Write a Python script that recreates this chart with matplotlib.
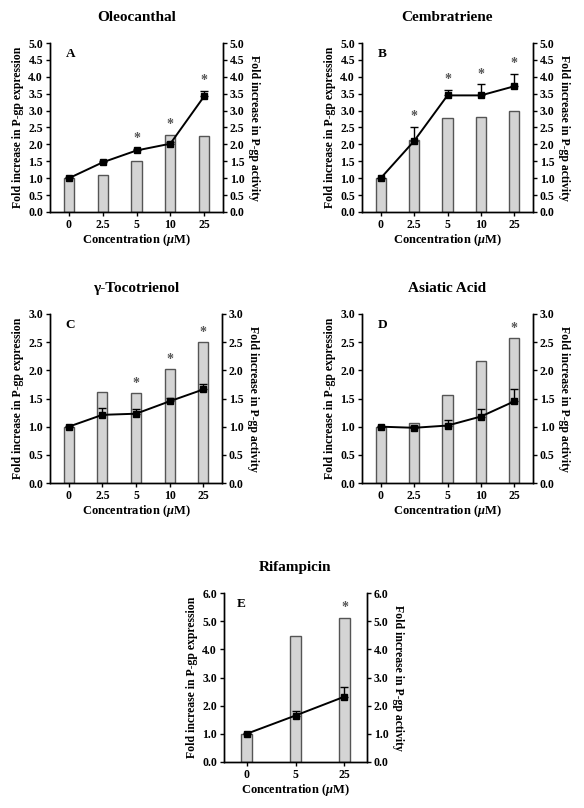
import matplotlib
matplotlib.use('Agg')
import matplotlib.pyplot as plt
import numpy as np

plt.rcParams['font.family'] = ['Liberation Serif', 'DejaVu Serif']
plt.rcParams['font.weight'] = 'bold'
plt.rcParams['axes.labelweight'] = 'bold'
plt.rcParams['axes.titleweight'] = 'bold'
plt.rcParams['mathtext.fontset'] = 'custom'
plt.rcParams['mathtext.it'] = 'Liberation Serif:bold:italic'
plt.rcParams['mathtext.rm'] = 'Liberation Serif:bold'

# 数据
conc_5 = ['0', '2.5', '5', '10', '25']
conc_3 = ['0', '5', '25']

ole_expr = [1.0, 1.10, 1.52, 2.28, 2.25]
ole_act = [1.0, 1.47, 1.82, 2.02, 3.42]
ole_err = [0.03, 0.03, 0.05, 0.05, 0.16]
ole_sig = [0, 0, 1, 1, 1]

cem_expr = [1.0, 2.12, 2.78, 2.81, 2.98]
cem_act = [1.0, 2.10, 3.45, 3.45, 3.72]
cem_err = [0.02, 0.42, 0.17, 0.33, 0.37]
cem_sig = [0, 1, 1, 1, 1]

toc_expr = [1.0, 1.61, 1.60, 2.02, 2.50]
toc_act = [1.0, 1.21, 1.23, 1.45, 1.66]
toc_err = [0.01, 0.12, 0.09, 0.06, 0.09]
toc_sig = [0, 0, 1, 1, 1]

asi_expr = [1.0, 1.07, 1.57, 2.16, 2.58]
asi_act = [1.0, 0.98, 1.02, 1.18, 1.45]
asi_err = [0.02, 0.03, 0.10, 0.14, 0.21]
asi_sig = [0, 0, 0, 0, 1]

rif_expr = [1.0, 4.47, 5.13]
rif_act = [1.0, 1.65, 2.32]
rif_err = [0.03, 0.17, 0.36]
rif_sig = [0, 0, 1]

W, H = 584, 808
fig = plt.figure(figsize=(W / 100, H / 100), dpi=100)


def panel(box, title, letter, labels, expr, act, err, sig, ymax, ystep, bar_w, star_off):
    l, r, t, b = box
    ax = fig.add_axes([l / W, (H - b) / H, (r - l) / W, (b - t) / H])
    n = len(labels)
    x = np.arange(n)
    ax.bar(x, expr, width=bar_w, color='#d4d4d4', edgecolor='#555555', linewidth=1.0, zorder=1)
    ax.errorbar(x, act, yerr=[np.zeros(n), err], fmt='-s', color='black', lw=1.4,
                markersize=5, capsize=3, elinewidth=1.0, capthick=1.0, zorder=3)
    for i in range(n):
        if sig[i]:
            y = max(expr[i], act[i] + err[i]) + star_off
            ax.text(x[i], y, '*', ha='center', va='center', fontsize=10, color='#555555')
    pad = 0.56 if n == 5 else 0.46
    ax.set_xlim(-pad, n - 1 + pad)
    ax.set_ylim(0, ymax)
    ticks = np.arange(0, ymax + 1e-6, ystep)
    ax.set_yticks(ticks)
    ax.set_yticklabels([f'{v:.1f}' for v in ticks], fontsize=8.5, fontweight='bold')
    ax.set_xticks(x)
    ax.set_xticklabels(labels, fontsize=8.5, fontweight='bold')
    ax.spines['top'].set_visible(False)
    ax.tick_params(direction='out', length=3, width=1, pad=2)
    ax.set_ylabel('Fold increase in P-gp expression', fontsize=8.5, labelpad=3)
    ax.set_xlabel(r'Concentration ($\mu$M)', fontsize=9, labelpad=1)
    ax.set_title(title, fontsize=11, pad=16)
    ax.text(0.09, 0.935, letter, transform=ax.transAxes, fontsize=9.5, fontweight='bold', va='center')
    ax2 = ax.twinx()
    ax2.set_ylim(0, ymax)
    ax2.set_yticks(ticks)
    ax2.set_yticklabels([f'{v:.1f}' for v in ticks], fontsize=8.5, fontweight='bold')
    ax2.spines['top'].set_visible(False)
    ax2.tick_params(direction='out', length=3, width=1, pad=2)
    ax2.set_ylabel('Fold increase in P-gp activity', fontsize=8.5, rotation=270, labelpad=11)
    for sp in ax.spines.values():
        sp.set_linewidth(1.0)
    for sp in ax2.spines.values():
        sp.set_linewidth(1.0)


panel((50, 223, 43, 212), 'Oleocanthal', 'A', conc_5, ole_expr, ole_act, ole_err, ole_sig, 5.0, 0.5, 0.3, 0.3)
panel((362, 533, 43, 212), 'Cembratriene', 'B', conc_5, cem_expr, cem_act, cem_err, cem_sig, 5.0, 0.5, 0.3, 0.3)
panel((50, 222, 314, 483), 'γ-Tocotrienol', 'C', conc_5, toc_expr, toc_act, toc_err, toc_sig, 3.0, 0.5, 0.3, 0.17)
panel((362, 533, 314, 483), 'Asiatic Acid', 'D', conc_5, asi_expr, asi_act, asi_err, asi_sig, 3.0, 0.5, 0.3, 0.17)
panel((224, 367, 593, 762), 'Rifampicin', 'E', conc_3, rif_expr, rif_act, rif_err, rif_sig, 6.0, 1.0, 0.21, 0.35)

plt.savefig('out.png', dpi=100)
plt.close(fig)
